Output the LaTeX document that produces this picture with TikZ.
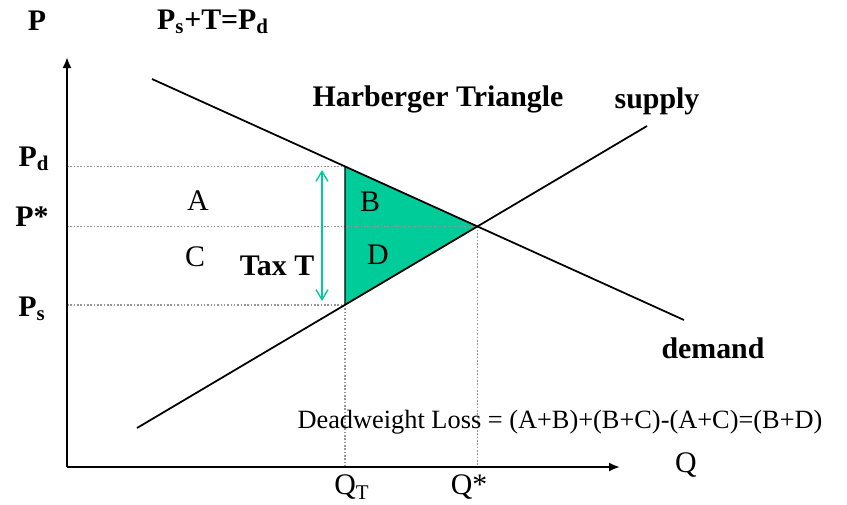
\documentclass[tikz,border=0pt]{standalone}
\usepackage{fontspec}
\setmainfont{Liberation Serif}
\usepackage{tikz}
\usetikzlibrary{arrows.meta,intersections}
\definecolor{taxgreen}{RGB}{0,204,153}
\definecolor{guidegrey}{RGB}{150,150,150}

\begin{document}
\begin{tikzpicture}[x=0.02cm, y=-0.02cm,
    lbl/.style={font=\fontsize{17}{20}\selectfont, inner sep=1pt},
    blbl/.style={font=\fontsize{17}{20}\selectfont\bfseries, inner sep=1pt},
    curve/.style={black, line width=1pt},
    axis/.style={black, line width=1.2pt, -{Latex[length=2.2mm, width=1.8mm]}},
    guide/.style={guidegrey, line width=0.9pt, densely dotted},
    taxarr/.style={taxgreen, line width=0.8pt, {Straight Barb[length=2mm, width=2.4mm]}-{Straight Barb[length=2mm, width=2.4mm]}}
]
    \useasboundingbox (0,0) rectangle (847,504);

    % axes
    \coordinate (O) at (67,467);
    \coordinate (ytop) at (67,57);
    \coordinate (xend) at (620,467);

    % curves and the tax wedge
    \coordinate (d1) at (152,79);
    \coordinate (d2) at (684,320);
    \coordinate (s1) at (137,428);
    \coordinate (s2) at (647,126);
    \path[name path=demand] (d1) -- (d2);
    \path[name path=supply] (s1) -- (s2);
    \path[name path=qtline] (345,40) -- (345,480);
    \path[name intersections={of=demand and supply, by=E}];
    \path[name intersections={of=demand and qtline, by=Pdpt}];
    \path[name intersections={of=supply and qtline, by=Pspt}];

    \fill[taxgreen] (Pdpt) -- (E) -- (Pspt) -- cycle;

    % guide lines
    \draw[guide] (O |- Pdpt) -- (Pdpt);
    \draw[guide] (O |- Pspt) -- (Pspt);
    \draw[guide] (O |- E) -- (E);
    \draw[guide] (Pspt) -- (Pspt |- O);
    \draw[guide] (E) -- (E |- O);
    \draw[black, line width=0.8pt] (Pdpt) -- (Pspt);

    \draw[curve] (d1) -- (d2);
    \draw[curve] (s1) -- (s2);
    \draw[axis] (O) -- (ytop);
    \draw[axis] (O) -- (xend);

    \coordinate (tt) at (322,170);
    \coordinate (tb) at (322,301);
    \draw[taxarr] (tb) -- (tt);

    % labels
    \node[blbl] (P)     at (37,21)  {P};
    \node[blbl] (eq)    at (213,22) {P\textsubscript{s}+T=P\textsubscript{d}};
    \node[blbl] (harb)  at (438,99) {Harberger Triangle};
    \node[blbl] (sup)   at (657,101) {supply};
    \node[blbl] (dem)   at (713,348) {demand};
    \node[blbl] (pd)    at (34,159) {P\textsubscript{d}};
    \node[blbl] (pstar) at (32,217) {P*};
    \node[blbl] (ps)    at (32,309) {P\textsubscript{s}};
    \node[lbl]  (A)     at (198,201) {A};
    \node[lbl]  (C)     at (195,257) {C};
    \node[lbl]  (B)     at (370,202) {B};
    \node[lbl]  (D)     at (378,255) {D};
    \node[blbl] (tax)   at (277,266) {Tax T};
    \node[font=\fontsize{15}{18}\selectfont, inner sep=1pt] (dwl) at (560,422)
        {Deadweight Loss = (A+B)+(B+C)-(A+C)=(B+D)};
    \node[lbl]  (Q)     at (686,465) {Q};
    \node[lbl]  (QT)    at (352,487) {Q\textsubscript{T}};
    \node[lbl]  (Qs)    at (469,487) {Q*};
\end{tikzpicture}
\end{document}
